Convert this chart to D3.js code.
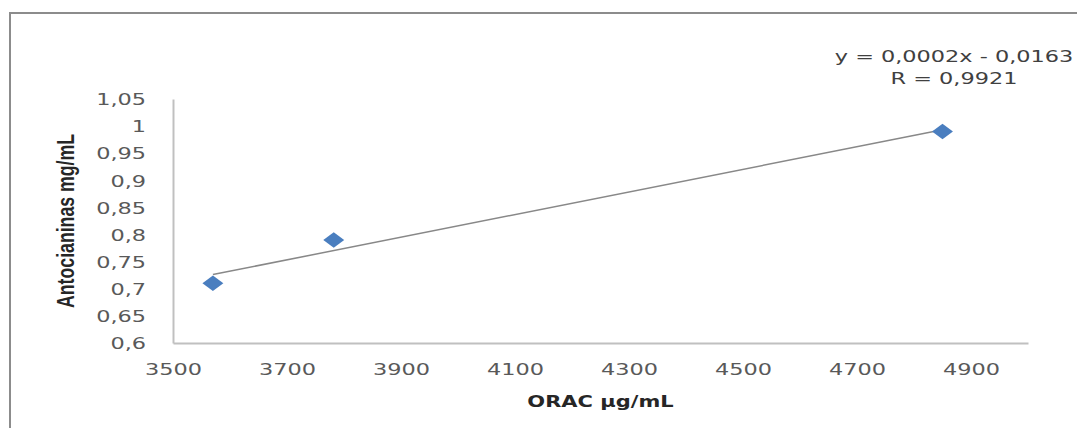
<!DOCTYPE html>
<html>
<head>
	<meta charset="utf-8">
	<title>ORAC vs Antocianinas</title>
	<script src="https://d3js.org/d3.v7.min.js"></script>
	<style>
		body { margin: 0; background: #fff; }
		svg { display: block; font-family: 'DejaVu Sans', sans-serif; }
	</style>
</head>
<body>
	<div class="chart"></div>

	<script type="text/javascript">
		// datos
		var oracValues = [3570, 3782, 4850]
		var antoValues = [0.71, 0.79, 0.99]
		var xTicks = [3500, 3700, 3900, 4100, 4300, 4500, 4700, 4900]
		var yTicks = [0.6, 0.65, 0.7, 0.75, 0.8, 0.85, 0.9, 0.95, 1, 1.05]
		var equationLines = ['y = 0,0002x - 0,0163', 'R = 0,9921']
		var xTitle = 'ORAC µg/mL'
		var yTitle = 'Antocianinas mg/mL'

		var width = 1077
		var height = 428
		var stretch = 1.4

		var svg = d3
			.select('.chart')
			.append('svg')
			.attr('width', width)
			.attr('height', height)

		// marco exterior
		svg.append('rect')
			.attr('x', 10)
			.attr('y', 13)
			.attr('width', 1200)
			.attr('height', 600)
			.attr('fill', 'none')
			.attr('stroke', '#8c8c8c')
			.attr('stroke-width', 2)

		// escalas
		var xScale = d3.scaleLinear().domain([3500, 5000]).range([173, 1028])
		var yScale = d3.scaleLinear().domain([0.6, 1.05]).range([343, 99])

		var fmt = (d) => String(d).replace('.', ',')

		// ejes
		var xAxis = svg.append('g')
			.attr('transform', `translate(0, ${yScale(0.6)})`)
			.call(d3.axisBottom(xScale).tickValues(xTicks).tickSize(0).tickPadding(0).tickFormat(d3.format('d')))
		xAxis.select('.domain').attr('stroke', '#c0c0c0').attr('stroke-width', 2)
		xAxis.selectAll('text')
			.attr('y', 0)
			.attr('dy', 0)
			.attr('transform', `translate(0, 32) scale(${stretch}, 1)`)
			.style('font-size', '16px')
			.style('font-family', "'DejaVu Sans', sans-serif")
			.attr('fill', '#595959')

		var yAxis = svg.append('g')
			.attr('transform', `translate(${xScale(3500)}, 0)`)
			.call(d3.axisLeft(yScale).tickValues(yTicks).tickSize(0).tickPadding(0).tickFormat(fmt))
		yAxis.select('.domain').attr('stroke', '#c0c0c0').attr('stroke-width', 2)
		yAxis.selectAll('text')
			.attr('x', 0)
			.attr('dy', '0.36em')
			.attr('transform', `translate(-27, 0) scale(${stretch}, 1)`)
			.style('font-size', '16px')
			.style('font-family', "'DejaVu Sans', sans-serif")
			.attr('fill', '#595959')

		// titulos
		svg.append('text')
			.attr('transform', `translate(${(173 + 1028) / 2}, 407) scale(${stretch}, 1)`)
			.attr('text-anchor', 'middle')
			.style('font-size', '15px')
			.style('font-weight', 'bold')
			.attr('fill', '#262626')
			.text(xTitle)

		svg.append('text')
			.attr('transform', `translate(74, 221) scale(${stretch}, 1) rotate(-90)`)
			.attr('text-anchor', 'middle')
			.attr('textLength', 174)
			.attr('lengthAdjust', 'spacingAndGlyphs')
			.style('font-family', "'Liberation Sans Narrow', 'Liberation Sans', sans-serif")
			.style('font-size', '17px')
			.style('font-weight', 'bold')
			.attr('fill', '#262626')
			.text(yTitle)

		// linea de tendencia (regresion lineal)
		var pts = oracValues.map((x, i) => ({ x: x, y: antoValues[i] }))
		var mx = d3.mean(pts, (d) => d.x)
		var my = d3.mean(pts, (d) => d.y)
		var slope = d3.sum(pts, (d) => (d.x - mx) * (d.y - my)) / d3.sum(pts, (d) => (d.x - mx) * (d.x - mx))
		var icpt = my - slope * mx
		var xr = d3.extent(oracValues)

		svg.append('line')
			.attr('x1', xScale(xr[0]))
			.attr('y1', yScale(slope * xr[0] + icpt))
			.attr('x2', xScale(xr[1]))
			.attr('y2', yScale(slope * xr[1] + icpt))
			.attr('stroke', '#888')
			.attr('stroke-width', 1.5)

		// puntos
		svg.append('g')
			.selectAll('path')
			.data(pts)
			.enter()
			.append('path')
			.attr('transform', (d) => `translate(${xScale(d.x)}, ${yScale(d.y)}) scale(1.35, 1) rotate(45)`)
			.attr('d', d3.symbol().type(d3.symbolSquare).size(120))
			.attr('fill', '#4a7ebf')

		// ecuacion
		var eq = svg.append('g')
		equationLines.forEach(function (t, i) {
			eq.append('text')
				.attr('transform', `translate(954, ${62 + i * 22}) scale(${stretch}, 1)`)
				.attr('text-anchor', 'middle')
				.style('font-size', '16px')
				.attr('fill', '#404040')
				.text(t)
		})
	</script>
</body>
</html>
